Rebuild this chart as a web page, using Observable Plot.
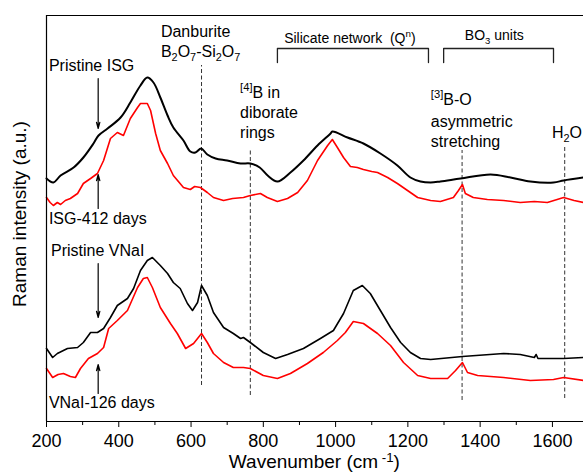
<!DOCTYPE html>
<html><head><meta charset="utf-8">
<script src="https://cdn.jsdelivr.net/npm/d3@7"></script>
<script src="https://cdn.jsdelivr.net/npm/@observablehq/plot@0.6"></script>
<style>
body{margin:0;background:#fff}
svg{font-family:"Liberation Sans",Arial,sans-serif}
svg text.rich{white-space:pre}
</style>
</head><body><div id="chart"></div>
<script>
// Raman spectra, [wavenumber (cm-1), intensity (a.u., offset)]
const pristineISG = [[200,243],[219,239],[239,246],[275,254],[302,264],[330,278],[344,286],[369,293],[405,304],[432,319],[460,336],[479,344],[496,339],[515,324],[535,306],[551,294],[579,281],[598,270],[612,269],[628,273],[645,267],[668,263],[700,261],[737,258],[764,258],[790,254],[812,246],[839,240],[875,249],[911,261],[950,276],[986,288],[991,290],[1033,284],[1077,278],[1124,268],[1171,256],[1207,244],[1235,240],[1263,239],[1290,240],[1346,243],[1429,247],[1484,244],[1539,240],[1603,239],[1631,241],[1686,244]];
const isg412 = [[200,224],[210,219],[219,216],[230,219],[239,217],[252,221],[266,223],[286,228],[302,238],[322,243],[341,248],[358,261],[377,283],[396,289],[413,286],[432,303],[452,314],[460,318],[479,318],[488,311],[502,288],[515,271],[535,258],[551,246],[579,234],[598,232],[610,235],[626,234],[645,229],[662,224],[690,221],[715,223],[745,224],[764,226],[792,228],[811,224],[839,220],[867,223],[895,229],[922,241],[950,261],[978,276],[991,282],[1005,274],[1022,264],[1041,255],[1060,254],[1077,252],[1100,250],[1116,249],[1144,244],[1171,238],[1199,231],[1227,224],[1263,221],[1290,220],[1326,224],[1340,231],[1351,237],[1359,228],[1381,224],[1420,222],[1465,221],[1511,219],[1550,220],[1586,219],[1631,224],[1660,221],[1686,219]];
const pristineVNaI = [[200,73],[217,64],[230,68],[258,73],[286,74],[302,79],[322,89],[341,89],[358,93],[377,104],[396,116],[424,123],[441,133],[460,151],[479,161],[493,164],[515,156],[535,148],[551,139],[570,133],[590,118],[604,111],[618,119],[629,136],[645,126],[662,109],[690,94],[717,88],[737,83],[745,84],[764,79],[800,69],[834,63],[867,67],[911,73],[958,83],[994,91],[1022,108],[1049,131],[1074,136],[1096,128],[1124,111],[1152,94],[1180,79],[1207,69],[1235,63],[1263,62],[1351,65],[1465,68],[1511,67],[1550,64],[1555,67],[1560,63],[1631,63],[1686,64]];
const vnai126 = [[200,53],[217,44],[232,47],[247,48],[266,45],[280,44],[294,53],[316,63],[341,68],[358,74],[372,93],[396,101],[424,111],[452,134],[468,143],[479,144],[493,134],[515,114],[543,98],[562,88],[585,73],[607,78],[629,88],[645,79],[662,68],[690,59],[717,54],[745,54],[764,53],[800,46],[839,43],[875,48],[922,58],[966,69],[1005,81],[1027,89],[1049,100],[1077,98],[1116,88],[1152,76],[1188,59],[1227,46],[1263,43],[1310,43],[1332,51],[1351,59],[1365,49],[1393,46],[1465,44],[1539,41],[1603,42],[1631,44],[1686,41]];

const majorTicks = [200,400,600,800,1000,1200,1400,1600];
const minorTicks = [300,500,700,900,1100,1300,1500];

// band markers (dashed), brackets, arrows
const bandLines = [
  {wn:629, top:356, bottom:36},
  {wn:764, top:271, bottom:26},
  {wn:1350, top:271, bottom:21},
  {wn:1634, top:274, bottom:23}
];
const brackets = [
  {id:"silicate", from:839, to:1257, top:373, foot:359},
  {id:"bo3", from:1299, to:1603, top:373, foot:359}
];
const arrows = [
  {wn:343, from:343, to:293},
  {wn:343, from:213, to:247},
  {wn:343, from:158, to:104},
  {wn:343, from:28, to:57}
];
const labels = [
  {wn:208, v:350, parts:["Pristine ISG"]},
  {wn:208, v:197, parts:["ISG-412 days"]},
  {wn:214, v:165, parts:["Pristine VNaI"]},
  {wn:208, v:13, parts:["VNaI-126 days"]},
  {wn:518, v:384, parts:["Danburite"]},
  {wn:518, v:364, parts:["B",{sub:"2"},"O",{sub:"7"},"-Si",{sub:"2"},"O",{sub:"7"}]},
  {wn:737, v:323, parts:[{sup:"[4]"},"B in"]},
  {wn:737, v:303, parts:["diborate"]},
  {wn:737, v:283, parts:["rings"]},
  {wn:859, v:378, parts:["Silicate network  (Q",{sup:"n"},")"], size:14},
  {wn:1359, v:381, parts:["BO",{sub:"3"}," units"], size:14},
  {wn:1265, v:316, parts:[{sup:"[3]"},"B-O"]},
  {wn:1265, v:294, parts:["asymmetric"]},
  {wn:1265, v:274, parts:["stretching"]},
  {wn:1600, v:283, parts:["H",{sub:"2"},"O"]}
];

const bracketPts = brackets.flatMap(b => [
  {id:b.id, x:b.from, y:b.foot},{id:b.id, x:b.from, y:b.top},
  {id:b.id, x:b.to, y:b.top},{id:b.id, x:b.to, y:b.foot}]);

const xDomain = [200, 1686], yDomain = [0, 406];
const toXY = a => a.map(([x, y]) => ({x, y}));

const plot = Plot.plot({
  width: 583, height: 474,
  marginLeft: 46, marginRight: 0, marginTop: 15, marginBottom: 53,
  x: {domain: xDomain},
  y: {domain: yDomain, axis: null},
  style: {fontFamily: '"Liberation Sans", Arial, sans-serif', background: "#fff", color: "#000"},
  marks: [
    Plot.ruleX(bandLines, {x: "wn", y1: "bottom", y2: "top", stroke: "#333", strokeWidth: 1, strokeDasharray: "4,2.5"}),
    Plot.line(toXY(isg412), {x: "x", y: "y", stroke: "#ff0000", strokeWidth: 1.6}),
    Plot.line(toXY(pristineISG), {x: "x", y: "y", stroke: "#000", strokeWidth: 2, curve: "catmull-rom"}),
    Plot.line(toXY(vnai126), {x: "x", y: "y", stroke: "#ff0000", strokeWidth: 1.6}),
    Plot.line(toXY(pristineVNaI), {x: "x", y: "y", stroke: "#000", strokeWidth: 1.6}),
    Plot.line(bracketPts, {x: "x", y: "y", z: "id", stroke: "#222", strokeWidth: 1.3}),
    Plot.arrow(arrows, {x: "wn", y1: "from", y2: "to", stroke: "#000", strokeWidth: 1.2, headLength: 8, headAngle: 30}),
    Plot.ruleX([xDomain[0]], {stroke: "#000", strokeWidth: 1.2}),
    Plot.ruleY([yDomain[1]], {stroke: "#000", strokeWidth: 1.2}),
    Plot.ruleY([yDomain[0]], {stroke: "#000", strokeWidth: 1.2}),
    Plot.axisX({ticks: majorTicks, tickSize: 6, tickPadding: 7, fontSize: 18, tickFormat: d => String(d), label: null, stroke: "#000", fill: "#000"}),
    Plot.axisX({ticks: minorTicks, tickSize: 4, tickFormat: () => "", label: null, stroke: "#000"})
  ]
});

const svg = d3.select(plot);
const xs = plot.scale("x"), ys = plot.scale("y");

function rich(sel, parts, size, supShift = 0.42) {
  let shift = 0;
  parts.forEach(p => {
    let txt, target, fs;
    if (typeof p === "string") { txt = p; target = 0; fs = size; }
    else if (p.sub != null) { txt = p.sub; target = 0.28 * size; fs = 0.68 * size; }
    else { txt = p.sup; target = -supShift * size; fs = 0.7 * size; }
    sel.append("tspan").attr("dy", target - shift).attr("font-size", fs).text(txt);
    shift = target;
  });
}

labels.forEach(l => {
  const size = l.size || 16;
  const t = svg.append("text").attr("class", "rich")
    .attr("x", xs.apply(l.wn)).attr("y", ys.apply(l.v))
    .attr("text-anchor", "start")
    .attr("font-size", size).attr("fill", "#000");
  rich(t, l.parts, size);
});

// axis titles
const xt = svg.append("text").attr("class", "rich")
  .attr("x", xs.apply(706)).attr("y", 468).attr("text-anchor", "start")
  .attr("font-size", 19).attr("fill", "#000");
rich(xt, ["Wavenumber (cm", {sup: " -1"}, ")"], 19, 0.3);

svg.append("text")
  .attr("transform", `translate(26,${ys.apply(207)}) rotate(-90)`)
  .attr("text-anchor", "middle").attr("font-size", 19).attr("fill", "#000")
  .text("Raman intensity (a.u.)");

document.getElementById("chart").append(plot);
</script>
</body></html>
